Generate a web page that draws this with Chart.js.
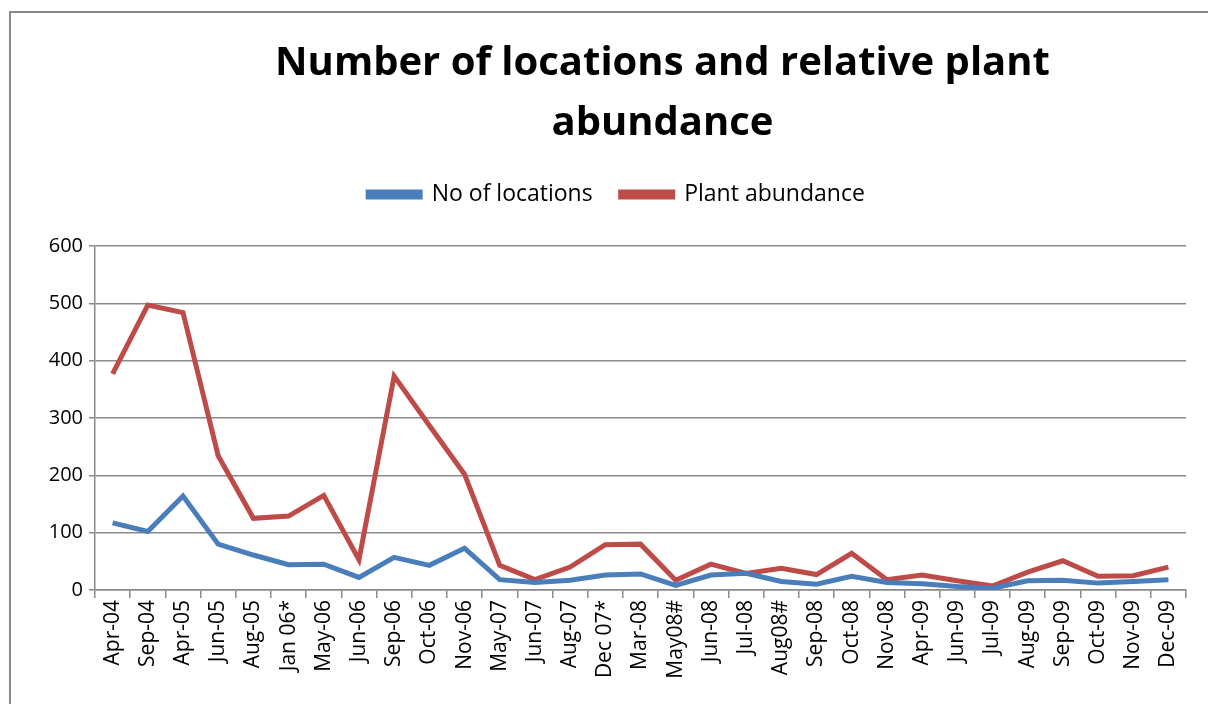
<!DOCTYPE html>
<html>
<head>
<meta charset="utf-8">
<script src="https://cdn.jsdelivr.net/npm/chart.js@4"></script>
<style>
  body { margin: 0; background: #fff; overflow: hidden; }
  #wrap {
    position: absolute; left: 9px; top: 11px;
    width: 1199px; height: 693px;
    border-left: 2px solid #8a8a8a; border-top: 2px solid #8a8a8a;
  }
</style>
</head>
<body>
<div id="wrap"><canvas id="myChart" width="1199" height="693"></canvas></div>
<script>
var months = ['Apr-04', 'Sep-04', 'Apr-05', 'Jun-05', 'Aug-05', 'Jan 06*', 'May-06', 'Jun-06',
    'Sep-06', 'Oct-06', 'Nov-06', 'May-07', 'Jun-07', 'Aug-07', 'Dec 07*', 'Mar-08', 'May08#',
    'Jun-08', 'Jul-08', 'Aug08#', 'Sep-08', 'Oct-08', 'Nov-08', 'Apr-09', 'Jun-09', 'Jul-09',
    'Aug-09', 'Sep-09', 'Oct-09', 'Nov-09', 'Dec-09'];

var locations = [117, 102, 164, 80, 61, 44, 45, 22, 57, 43, 73, 18, 13, 17, 26, 28, 8,
    26, 29, 15, 10, 24, 13, 11, 6, 3, 16, 17, 12, 15, 18];

var abundance = [377, 497, 484, 234, 125, 129, 165, 53, 373, 287, 202, 43, 18, 40, 79, 80, 17,
    45, 29, 38, 27, 64, 18, 26, 16, 7, 31, 51, 24, 25, 40];

var yTicks = [0, 100, 200, 300, 400, 500, 600];

// extra room under the legend, and nudge title + legend to the right like the original
const tweaks = {
    id: 'tweaks',
    beforeInit(chart) {
        const fit = chart.legend.fit;
        chart.legend.fit = function() {
            fit.bind(chart.legend)();
            this.height += 30;
        };
    },
    afterLayout(chart) {
        chart.titleBlock.left += 22;
        chart.titleBlock.right += 22;
        chart.legend.left += 18;
        chart.legend.right += 18;
    }
};

const ctx = document.getElementById('myChart').getContext('2d');
const myChart = new Chart(ctx, {
    type: 'line',
    data: {
        labels: months,
        datasets: [{
            label: 'No of locations',
            data: locations,
            borderColor: '#4a7ebb',
            backgroundColor: '#4a7ebb',
            borderWidth: 5,
            pointRadius: 0,
            tension: 0
        }, {
            label: 'Plant abundance',
            data: abundance,
            borderColor: '#be4b48',
            backgroundColor: '#be4b48',
            borderWidth: 5,
            pointRadius: 0,
            tension: 0
        }]
    },
    plugins: [tweaks],
    options: {
        responsive: false,
        animation: false,
        layout: { padding: { top: 21, right: 24, left: 0, bottom: 0 } },
        plugins: {
            title: {
                display: true,
                text: ['Number of locations and relative plant', 'abundance'],
                fullSize: false,
                color: '#000',
                font: { family: 'Open Sans', size: 40, weight: 'bold', lineHeight: 1.5 },
                padding: { top: 0, bottom: 1 }
            },
            legend: {
                labels: {
                    color: '#000',
                    font: { family: 'Open Sans', size: 23 },
                    boxWidth: 52,
                    boxHeight: 5,
                    padding: 28
                }
            },
            tooltip: { enabled: false }
        },
        scales: {
            x: {
                offset: true,
                grid: { drawOnChartArea: false, drawTicks: true, tickLength: 8, color: '#8a8a8a', lineWidth: 1.5, offset: true },
                border: { color: '#8a8a8a', width: 1.5 },
                ticks: {
                    minRotation: 90, maxRotation: 90, autoSkip: false,
                    color: '#000', padding: 2,
                    font: { family: 'Open Sans', size: 21 }
                },
                afterFit: s => { s.height = 116; }
            },
            y: {
                min: 0, max: 600,
                afterBuildTicks: s => { s.ticks = yTicks.map(v => ({ value: v })); },
                grid: { color: '#8a8a8a', lineWidth: 1.5, tickLength: 6 },
                border: { color: '#8a8a8a', width: 1.5 },
                ticks: { color: '#000', padding: 6, font: { family: 'Open Sans', size: 20 } },
                afterFit: s => { s.width = 84; }
            }
        }
    }
});
</script>
</body>
</html>
